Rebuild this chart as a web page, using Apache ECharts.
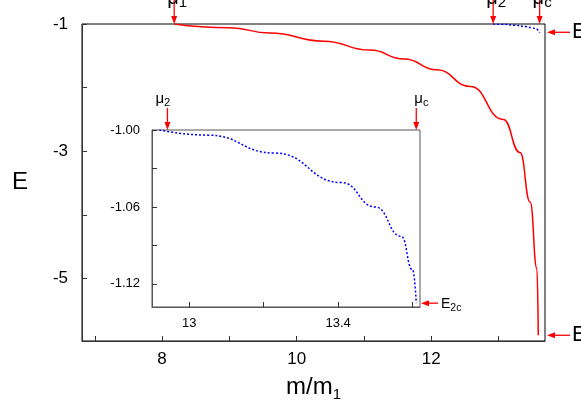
<!DOCTYPE html>
<html><head><meta charset="utf-8">
<script src="https://cdn.jsdelivr.net/npm/echarts@6/dist/echarts.min.js"></script>
<style>html,body{margin:0;padding:0;background:#fff}#c{width:581px;height:407px}</style>
</head><body><div id="c"></div>
<script>
// main curve (red): E vs m/m1
const redX = [8.18, 9.0, 9.60, 10.4, 11.09, 11.6, 12.08, 12.58, 13.07, 13.32, 13.47, 13.57, 13.59];
const redY = [-1.0, -1.06, -1.14, -1.27, -1.41, -1.55, -1.72, -1.98, -2.5, -3.02, -3.8, -4.84, -5.89];
// second branch (blue dotted)
const blueX = [12.92, 13.05, 13.23, 13.41, 13.50, 13.57, 13.60, 13.61];
const blueY = [-1.0, -1.004, -1.018, -1.041, -1.06, -1.083, -1.109, -1.135];
const mainXLabels = [8, 10, 12];
const mainXTicks = [7, 8, 9, 10, 11, 12, 13];
const mainYLabels = [-1, -3, -5];
const mainYTicks = [-1, -2, -3, -4, -5];
const insetXLabels = [13, 13.4];
const insetXTicks = [13, 13.2, 13.4, 13.6];
const insetYLabels = [-1.00, -1.06, -1.12];
const insetYTicks = [-1.00, -1.03, -1.06, -1.09, -1.12];
const mu1 = 8.18, mu2 = 12.92, muc = 13.61, E1c = -5.89, E2c = -1.135, Ec = -1.13;

const chart = echarts.init(document.getElementById('c'));
const F = 'Liberation Sans, Arial, sans-serif';
function xa(idx, min, max, labels, ticks, fs, name) {
  return {gridIndex: idx, type: 'value', min, max, splitLine: {show: false},
    axisLine: {lineStyle: {color: idx ? '#555' : '#333'}},
    axisTick: {inside: true, length: 5, customValues: ticks, lineStyle: {color: '#333'}},
    axisLabel: {customValues: labels, color: '#000', fontSize: fs, fontFamily: F, margin: 10},
    name: name || '', nameLocation: 'middle', nameGap: 32,
    nameTextStyle: {fontSize: 24, fontFamily: F, color: '#000',
      rich: {s: {fontSize: 15, fontFamily: F, padding: [14, 0, 0, 0]}}}};
}
function ya(idx, min, max, labels, ticks, fs, fmt, name) {
  return {gridIndex: idx, type: 'value', min, max, splitLine: {show: false},
    axisLine: {lineStyle: {color: idx ? '#555' : '#333'}},
    axisTick: {inside: true, length: 5, customValues: ticks, lineStyle: {color: '#333'}},
    axisLabel: {customValues: labels, color: '#000', fontSize: fs, fontFamily: F, margin: idx ? 12 : 14,
      formatter: fmt},
    name: name || '', nameLocation: 'middle', nameGap: 54, nameRotate: 0,
    nameTextStyle: {fontSize: 24, fontFamily: F, color: '#000'}};
}
chart.setOption({
  animation: false,
  grid: [
    {left: 82, top: 24, width: 463, height: 319, show: true, borderColor: '#000', borderWidth: 1},
    {left: 152, top: 130, width: 268, height: 177, show: true, borderColor: '#555', borderWidth: 1, backgroundColor: '#fff'}
  ],
  xAxis: [xa(0, 6.81, 13.69, mainXLabels, mainXTicks, 17, 'm/m{s|1}'),
          xa(1, 12.90, 13.62, insetXLabels, insetXTicks, 13)],
  yAxis: [ya(0, -5.98, -1, mainYLabels, mainYTicks, 17, v => String(v), 'E'),
          ya(1, -1.138, -1.0, insetYLabels, insetYTicks, 13, v => v.toFixed(2))],
  series: [
    {type: 'line', xAxisIndex: 0, yAxisIndex: 0, data: redX.map((x, i) => [x, redY[i]]), smooth: 0.5, smoothMonotone: 'x',
      showSymbol: false, lineStyle: {color: '#f00', width: 1.5}, z: 2},
    {type: 'line', xAxisIndex: 0, yAxisIndex: 0, data: blueX.map((x, i) => [x, blueY[i]]), smooth: 0.5, smoothMonotone: 'x',
      showSymbol: false, lineStyle: {color: '#00f', width: 1.5, type: [2, 2]}, z: 2},
    {type: 'line', xAxisIndex: 1, yAxisIndex: 1, data: blueX.map((x, i) => [x, blueY[i]]), smooth: 0.5, smoothMonotone: 'x',
      showSymbol: false, lineStyle: {color: '#00f', width: 1.5, type: [2, 2]}, z: 5}
  ]
});
const g = [];
const red = '#f00';
function vArrow(x, y0, y1) {
  g.push({type: 'line', shape: {x1: x, y1: y0, x2: x, y2: y1 - 6}, style: {stroke: red, lineWidth: 1.3}, z: 20});
  g.push({type: 'polygon', shape: {points: [[x - 3, y1 - 8], [x + 3, y1 - 8], [x, y1]]}, style: {fill: red}, z: 20});
}
function hArrow(x0, x1, y) {
  g.push({type: 'line', shape: {x1: x0, y1: y, x2: x1 + 6, y2: y}, style: {stroke: red, lineWidth: 1.3}, z: 20});
  g.push({type: 'polygon', shape: {points: [[x1 + 8, y - 3], [x1 + 8, y + 3], [x1, y]]}, style: {fill: red}, z: 20});
}
function label(x, y, main, sub, fs) {
  g.push({type: 'text', x, y, z: 20, style: {text: '{m|' + main + '}{s|' + sub + '}', verticalAlign: 'bottom',
    rich: {m: {fontSize: fs, fontFamily: F, fill: '#000'}, s: {fontSize: fs * 0.75, fontFamily: F, fill: '#000', padding: [fs * 0.45, 0, 0, 0]}}}});
}
const P = (p, i) => chart.convertToPixel({gridIndex: i}, p);
const a1 = P([mu1, -1], 0), a2 = P([mu2, -1], 0), ac = P([muc, -1], 0);
[a1, a2, ac].forEach(p => vArrow(p[0], 0, p[1]));
label(a1[0] - 7, 10, 'μ', '1', 20); label(a2[0] - 7, 10, 'μ', '2', 20); label(ac[0] - 7, 10, 'μ', 'c', 20);
const r1 = P([13.69, Ec], 0), r2 = P([13.69, E1c], 0);
hArrow(570, r1[0] + 2, r1[1]); hArrow(570, r2[0] + 2, r2[1]);
label(572, r1[1] + 13, 'E', 'c', 22); label(572, r2[1] + 13, 'E', '1c', 22);
const b2 = P([mu2, -1.0], 1), bc = P([muc, -1.0], 1), be = P([13.62, E2c], 1);
vArrow(b2[0] + 8, 108, b2[1]); vArrow(bc[0], 108, bc[1]);
label(b2[0] - 4, 108, 'μ', '2', 15); label(bc[0] - 2, 108, 'μ', 'c', 15);
hArrow(438, be[0] + 1, be[1]);
label(441, be[1] + 10, 'E', '2c', 14);
chart.setOption({graphic: g});
</script></body></html>
